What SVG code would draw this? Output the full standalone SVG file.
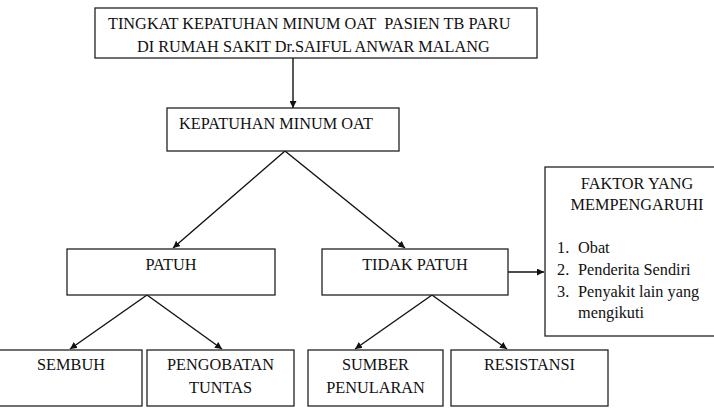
<svg xmlns="http://www.w3.org/2000/svg" width="714" height="409" viewBox="0 0 714 409">
<defs>
<style>
.box{fill:#fff;stroke:#222;stroke-width:1.3}
text{font-family:'Liberation Serif','Times New Roman',serif;font-size:16.3px;fill:#111}
.m{text-anchor:middle}
.ln{stroke:#111;stroke-width:1.4;fill:none;marker-end:url(#ah)}
</style>
<marker id="ah" viewBox="0 0 10 10" refX="10" refY="5" markerWidth="7" markerHeight="7" markerUnits="userSpaceOnUse" orient="auto">
<path d="M0,0 L10,5 L0,10 z" fill="#111"/>
</marker>
</defs>
<rect width="714" height="409" fill="#fff"/>
<g id="connectors">
<line class="ln" x1="293" y1="58" x2="293" y2="108"/>
<line class="ln" x1="285" y1="151" x2="173" y2="248"/>
<line class="ln" x1="285" y1="151" x2="405" y2="248"/>
<line class="ln" x1="147" y1="295" x2="70" y2="349"/>
<line class="ln" x1="147" y1="295" x2="222" y2="349"/>
<line class="ln" x1="432" y1="295" x2="355" y2="349"/>
<line class="ln" x1="432" y1="295" x2="507" y2="349"/>
<line class="ln" x1="508" y1="272" x2="544" y2="272"/>
</g>
<g id="top">
<rect class="box" x="95" y="8" width="442" height="50"/>
<text x="108" y="29">TINGKAT KEPATUHAN MINUM OAT&#160; PASIEN TB PARU</text>
<text x="137" y="52">DI RUMAH SAKIT Dr.SAIFUL ANWAR MALANG</text>
</g>
<g id="kepatuhan">
<rect class="box" x="167" y="108" width="232" height="43"/>
<text x="179" y="129">KEPATUHAN MINUM OAT</text>
</g>
<g id="patuh">
<rect class="box" x="67" y="249" width="208" height="46"/>
<text class="m" x="171" y="270">PATUH</text>
</g>
<g id="tidak-patuh">
<rect class="box" x="322" y="249" width="186" height="46"/>
<text class="m" x="415" y="270">TIDAK PATUH</text>
</g>
<g id="faktor">
<rect class="box" x="545" y="167" width="185" height="169"/>
<text class="m" x="637" y="189">FAKTOR YANG</text>
<text class="m" x="637" y="210">MEMPENGARUHI</text>
<text x="557" y="253">1.</text><text x="578" y="253">Obat</text>
<text x="557" y="275">2.</text><text x="578" y="275">Penderita Sendiri</text>
<text x="557" y="297">3.</text><text x="578" y="297">Penyakit lain yang</text>
<text x="578" y="318">mengikuti</text>
</g>
<g id="sembuh">
<rect class="box" x="-2" y="350" width="144" height="56"/>
<text class="m" x="71" y="370">SEMBUH</text>
</g>
<g id="pengobatan">
<rect class="box" x="147" y="350" width="147" height="56"/>
<text class="m" x="220.5" y="370">PENGOBATAN</text>
<text class="m" x="220.5" y="393">TUNTAS</text>
</g>
<g id="sumber">
<rect class="box" x="308" y="350" width="135" height="56"/>
<text class="m" x="375.5" y="370">SUMBER</text>
<text class="m" x="375.5" y="393">PENULARAN</text>
</g>
<g id="resistansi">
<rect class="box" x="451" y="350" width="157" height="56"/>
<text class="m" x="529.5" y="370">RESISTANSI</text>
</g>
</svg>
